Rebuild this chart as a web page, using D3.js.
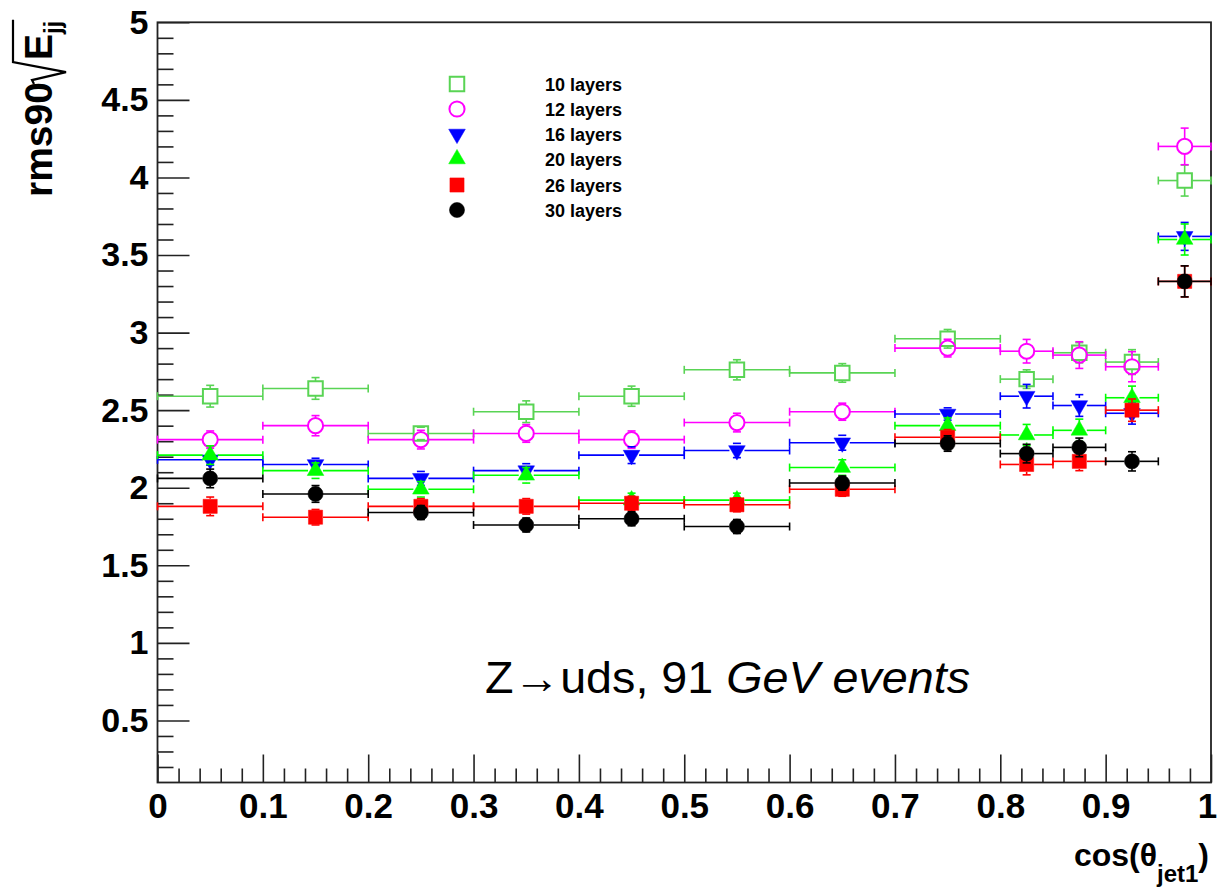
<!DOCTYPE html>
<html>
<head>
<meta charset="utf-8">
<script src="https://cdn.jsdelivr.net/npm/d3@7"></script>
<style>
  html, body { margin: 0; padding: 0; background: #fff; }
  svg { display: block; }
  text { font-family: "Liberation Sans", Arial, Helvetica, sans-serif; }
</style>
</head>
<body>
<svg id="chart" width="1217" height="887"></svg>
<script>
// Bin edges in cos(theta_jet1); the last four bins are half width
const binEdges = [0, 0.1, 0.2, 0.3, 0.4, 0.5, 0.6, 0.7, 0.8, 0.85, 0.9, 0.95, 1.0];

const seriesNames = ["10 layers", "12 layers", "16 layers", "20 layers", "26 layers", "30 layers"];

// rms90 / sqrt(E_jj) per bin, one array per layer count
const layers10 = [2.59, 2.64, 2.35, 2.49, 2.59, 2.76, 2.74, 2.96, 2.70, 2.87, 2.81, 3.98];
const layers12 = [2.31, 2.40, 2.31, 2.35, 2.31, 2.42, 2.49, 2.90, 2.88, 2.855, 2.78, 4.20];
const layers16 = [2.18, 2.15, 2.06, 2.11, 2.21, 2.24, 2.29, 2.475, 2.59, 2.53, 2.48, 3.62];
const layers20 = [2.21, 2.11, 1.99, 2.08, 1.92, 1.92, 2.13, 2.40, 2.34, 2.37, 2.58, 3.60];
const layers26 = [1.88, 1.81, 1.88, 1.88, 1.90, 1.89, 1.99, 2.325, 2.15, 2.17, 2.50, 3.33];
const layers30 = [2.06, 1.96, 1.84, 1.76, 1.80, 1.75, 2.03, 2.285, 2.22, 2.26, 2.17, 3.33];

// Statistical uncertainties on each value
const err10 = [0.07, 0.07, 0.04, 0.07, 0.065, 0.065, 0.06, 0.06, 0.06, 0.065, 0.08, 0.10];
const err12 = [0.056, 0.065, 0.06, 0.057, 0.056, 0.06, 0.055, 0.057, 0.076, 0.086, 0.097, 0.118];
const err16 = [0.035, 0.04, 0.045, 0.045, 0.054, 0.046, 0.048, 0.04, 0.076, 0.07, 0.07, 0.09];
const err20 = [0.06, 0.05, 0.05, 0.05, 0.045, 0.045, 0.05, 0.05, 0.068, 0.072, 0.075, 0.10];
const err26 = [0.06, 0.05, 0.05, 0.05, 0.045, 0.045, 0.045, 0.05, 0.067, 0.06, 0.072, 0.10];
const err30 = [0.06, 0.054, 0.045, 0.045, 0.045, 0.045, 0.045, 0.05, 0.06, 0.06, 0.062, 0.10];

const yMajorTicks = [0.5, 1, 1.5, 2, 2.5, 3, 3.5, 4, 4.5, 5];
const xMajorTicks = [0, 0.1, 0.2, 0.3, 0.4, 0.5, 0.6, 0.7, 0.8, 0.9, 1];

const styles = [
  { color: "#59d454", symbol: d3.symbolSquare,   filled: false, rot: 0,   size: 210 },
  { color: "#ff00ff", symbol: d3.symbolCircle,   filled: false, rot: 0,   size: 180 },
  { color: "#0000ff", symbol: d3.symbolTriangle, filled: true,  rot: 180, size: 120 },
  { color: "#00ff00", symbol: d3.symbolTriangle, filled: true,  rot: 0,   size: 120 },
  { color: "#ff0000", symbol: d3.symbolSquare,   filled: true,  rot: 0,   size: 200 },
  { color: "#000000", symbol: d3.symbolCircle,   filled: true,  rot: 0,   size: 180 }
];
const values = [layers10, layers12, layers16, layers20, layers26, layers30];
const errors = [err10, err12, err16, err20, err26, err30];

const svg = d3.select("#chart");
const frameLeft = 157.5, frameRight = 1211, frameTop = 22.3, frameBottom = 782.5;

const x = d3.scaleLinear().domain([0, 1]).range([frameLeft, frameRight]);
const y = d3.scaleLinear().domain([0.1, 5]).range([frameBottom, frameTop]);

const fmt = d => String(+d.toFixed(2));

// ---- axes ----
const yMinor = d3.range(2, 50).filter(i => i % 5 !== 0).map(i => i / 10);
const xMinor = d3.range(1, 50).filter(i => i % 5 !== 0).map(i => i / 50);

const gy = svg.append("g").attr("transform", `translate(${frameLeft},0)`);
gy.call(d3.axisLeft(y).tickValues(yMinor).tickSizeInner(-16).tickSizeOuter(0).tickFormat(""));
gy.append("g").call(d3.axisLeft(y).tickValues(yMajorTicks).tickSizeInner(-32).tickSizeOuter(0)
  .tickPadding(9).tickFormat(fmt));

const gx = svg.append("g").attr("transform", `translate(0,${frameBottom})`);
gx.call(d3.axisBottom(x).tickValues(xMinor).tickSizeInner(-14).tickSizeOuter(0).tickFormat(""));
gx.append("g").call(d3.axisBottom(x).tickValues(xMajorTicks).tickSizeInner(-28).tickSizeOuter(0)
  .tickPadding(11).tickFormat(fmt));

svg.selectAll(".domain").remove();
svg.selectAll(".tick line").attr("stroke", "#222").attr("stroke-width", 1.6);
gy.selectAll(".tick text").attr("font-size", 34).attr("font-weight", "bold").attr("fill", "#000");
gx.selectAll(".tick text").attr("font-size", 35).attr("font-weight", "bold").attr("fill", "#000")
  .attr("dx", d => d === 1 ? -4 : 0);

// frame
svg.append("rect")
  .attr("x", frameLeft).attr("y", frameTop)
  .attr("width", frameRight - frameLeft).attr("height", frameBottom - frameTop)
  .attr("fill", "none").attr("stroke", "#222").attr("stroke-width", 1.8);

// ---- data points with error bars ----
const half = 7.5, cap = 4;
const plot = svg.append("g");

styles.forEach((st, s) => {
  const g = plot.append("g");
  values[s].forEach((v, i) => {
    const x0 = x(binEdges[i]), x1 = x(binEdges[i + 1]);
    const xc = x((binEdges[i] + binEdges[i + 1]) / 2);
    const yc = y(v), yt = y(v + errors[s][i]), yb = y(v - errors[s][i]);
    const segs = [
      [x0, yc, xc - half, yc], [xc + half, yc, x1, yc],
      [x0, yc - cap, x0, yc + cap], [x1, yc - cap, x1, yc + cap]
    ];
    if (yc - yt > half) segs.push([xc, yt, xc, yc - half]);
    if (yb - yc > half) segs.push([xc, yc + half, xc, yb]);
    segs.push([xc - cap, yt, xc + cap, yt], [xc - cap, yb, xc + cap, yb]);
    g.selectAll(null).data(segs).enter().append("line")
      .attr("x1", d => d[0]).attr("y1", d => d[1])
      .attr("x2", d => d[2]).attr("y2", d => d[3])
      .attr("stroke", st.color).attr("stroke-width", 1.6);
    g.append("path")
      .attr("d", d3.symbol().type(st.symbol).size(st.size)())
      .attr("transform", `translate(${xc},${yc}) rotate(${st.rot})`)
      .attr("fill", st.filled ? st.color : "none")
      .attr("stroke", st.color)
      .attr("stroke-width", st.filled ? 0.5 : 2);
  });
});

// ---- legend ----
const legendRows = [84, 109, 134, 159, 185, 210];
const legend = svg.append("g");
seriesNames.forEach((name, s) => {
  const st = styles[s];
  legend.append("path")
    .attr("d", d3.symbol().type(st.symbol).size(st.size)())
    .attr("transform", `translate(457,${legendRows[s]}) rotate(${st.rot})`)
    .attr("fill", st.filled ? st.color : "none")
    .attr("stroke", st.color)
    .attr("stroke-width", st.filled ? 0.5 : 2);
  legend.append("text")
    .attr("x", 545).attr("y", legendRows[s] + 6.5)
    .attr("font-size", 18).attr("font-weight", "bold")
    .text(name);
});

// ---- axis titles ----
const xt = svg.append("text")
  .attr("x", 1209).attr("y", 866)
  .attr("text-anchor", "end")
  .attr("font-size", 32).attr("font-weight", "bold");
xt.append("tspan").text("cos(\u03b8");
xt.append("tspan").attr("font-size", 24).attr("dy", 16).text("jet1");
xt.append("tspan").attr("dy", -16).text(")");

const yt = svg.append("g").attr("transform", "translate(52,197) rotate(-90)");
const rms = yt.append("text").attr("x", 0).attr("y", 0)
  .attr("font-size", 39).attr("font-weight", "bold").text("rms90");
const L = rms.node().getComputedTextLength();
const eText = yt.append("text").attr("x", L + 22).attr("y", 0)
  .attr("font-size", 39).attr("font-weight", "bold");
eText.append("tspan").text("E");
eText.append("tspan").attr("font-size", 24).attr("dy", 9).text("jj");
const barEnd = L + 22 + eText.node().getComputedTextLength() + 1;
// radical sign with overbar
yt.append("path")
  .attr("d", `M${L - 2},-18 L${L + 2},-20 L${L + 10},14 L${L + 20},-39 L${barEnd},-39`)
  .attr("fill", "none").attr("stroke", "#000").attr("stroke-width", 2.2)
  .attr("stroke-linejoin", "miter");

// ---- annotation ----
const note = svg.append("text")
  .attr("x", 485).attr("y", 693)
  .attr("font-family", "'DejaVu Sans', sans-serif")
  .attr("font-size", 44)
  .attr("textLength", 485).attr("lengthAdjust", "spacingAndGlyphs");
note.append("tspan").text("Z\u2192uds, 91 ");
note.append("tspan").attr("font-style", "italic").text("GeV events");
</script>
</body>
</html>
